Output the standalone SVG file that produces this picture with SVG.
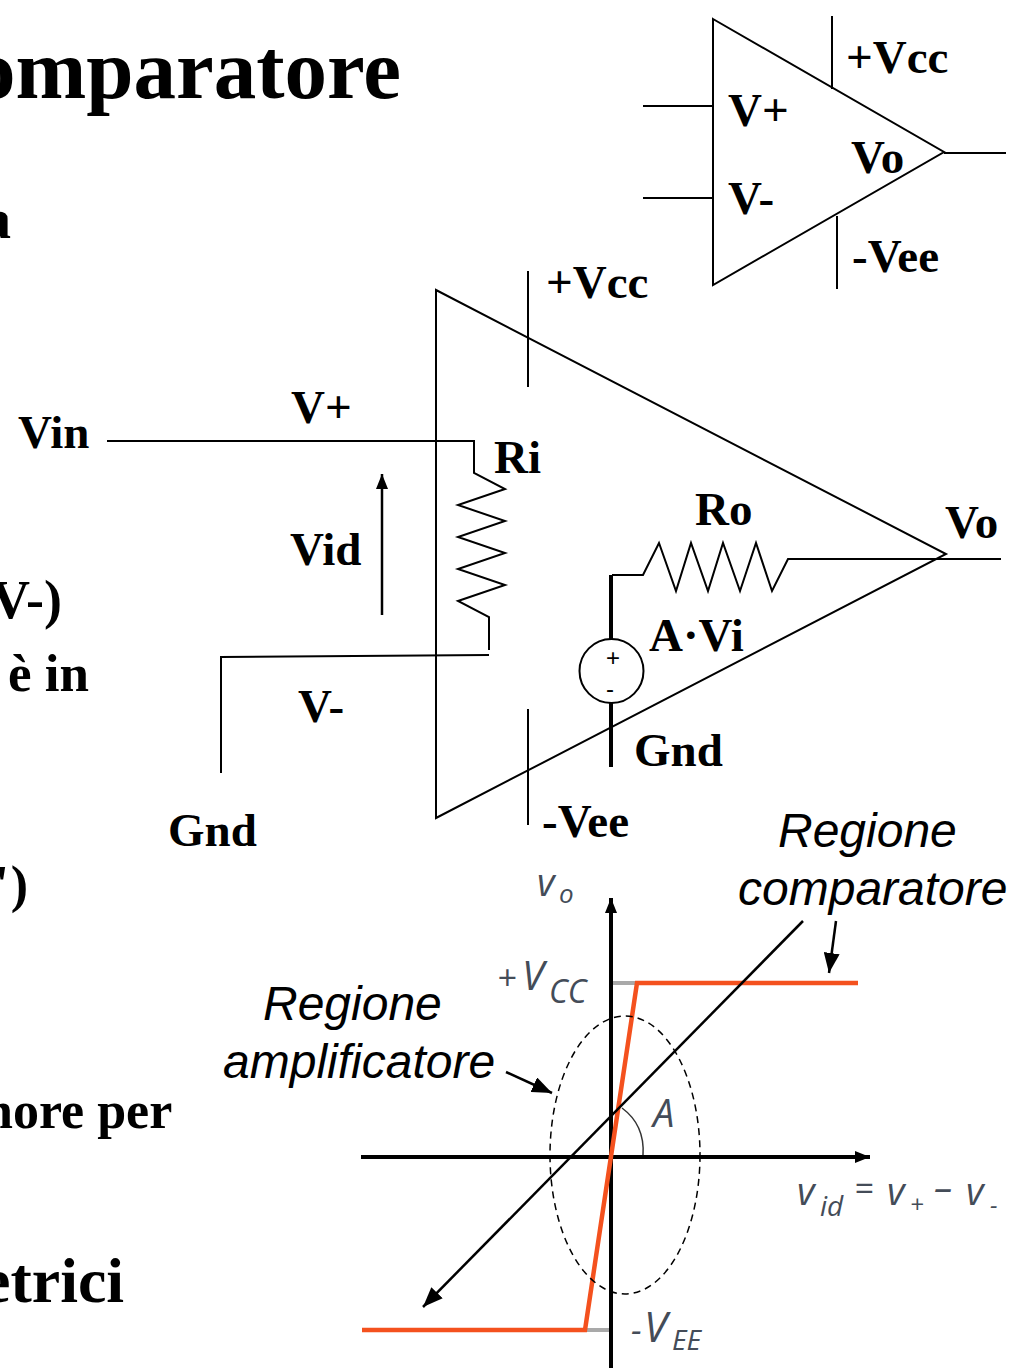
<svg xmlns="http://www.w3.org/2000/svg" width="1013" height="1368" viewBox="0 0 1013 1368">
<style>
.b{font-family:"Liberation Serif",serif;font-weight:bold;font-size:47px;fill:#000}
.i{font-family:"Liberation Sans",Arial,sans-serif;font-style:italic;font-size:48px;fill:#000}
.g{font-family:"Open Sans","Liberation Sans",sans-serif;font-style:italic;font-weight:400;fill:#444c58}
.l{fill:none;stroke:#000;stroke-width:2}
.d{fill:none;stroke:#000;stroke-width:2.5}
.t{fill:none;stroke:#000;stroke-width:4}
.ax{fill:none;stroke:#000;stroke-width:4}
</style>
<defs>
<marker id="ah" markerUnits="userSpaceOnUse" markerWidth="22" markerHeight="16" refX="20" refY="8" orient="auto"><path d="M0 0L20 8L0 16z" fill="#000"/></marker>
<marker id="as" markerUnits="userSpaceOnUse" markerWidth="16" markerHeight="12" refX="15" refY="6" orient="auto"><path d="M0 0L15 6L0 12z" fill="#000"/></marker>
</defs>
<rect width="1013" height="1368" fill="#fff"/>
<g id="page-text">
<text class="b" x="-27" y="98" style="font-size:85px">omparatore</text>
<text class="b" x="-17" y="238" style="font-size:56px">a</text>
<text class="b" x="-9" y="618" style="font-size:54px">V-)</text>
<text class="b" x="8" y="691" style="font-size:53px">è in</text>
<text class="b" x="-18" y="902" style="font-size:52px">")</text>
<text class="b" x="-16" y="1128" style="font-size:52px">nore per</text>
<text class="b" x="-18" y="1302" style="font-size:64px">etrici</text>
</g>
<g id="small-opamp">
<path class="l" d="M713 19L944 152L713 285Z"/>
<path class="l" d="M643 106H713M643 198H713M944 153H1006M832 16V89M837 216V289"/>
<text class="b" x="846" y="73">+Vcc</text>
<text class="b" x="728" y="126">V+</text>
<text class="b" x="851" y="173">Vo</text>
<text class="b" x="728" y="214">V-</text>
<text class="b" x="852" y="272">-Vee</text>
</g>
<g id="big-opamp">
<path class="l" d="M436 290L946 554L436 818Z"/>
<path class="l" d="M528 271V387M528 709V825M946 559H1001"/>
<text class="b" x="546" y="298">+Vcc</text>
<text class="b" x="542" y="837">-Vee</text>
<text class="b" x="945" y="538">Vo</text>
</g>
<g id="input-resistor">
<path class="l" d="M107 441H474V473L505 489L458 505L505 521L458 537L505 553L458 569L505 585L458 601L489 617V650"/>
<path class="l" d="M221 773V657L489 655"/>
<text class="b" x="18" y="448">Vin</text>
<text class="b" x="291" y="423">V+</text>
<text class="b" x="290" y="565">Vid</text>
<text class="b" x="298" y="722">V-</text>
<text class="b" x="168" y="846">Gnd</text>
<text class="b" x="494" y="473">Ri</text>
</g>
<g id="output-resistor">
<path class="l" d="M612 575H643L659 543L676 591L691 543L708 591L723 543L740 591L756 543L772 591L788 559H946"/>
<text class="b" x="695" y="525">Ro</text>
</g>
<g id="source">
<path class="t" d="M611 575V639M611 703V767"/>
<circle class="l" cx="611.5" cy="671" r="32"/>
<text x="613" y="666" font-family="Liberation Sans,sans-serif" font-size="24" text-anchor="middle">+</text>
<text x="610" y="697" font-family="Liberation Sans,sans-serif" font-size="24" text-anchor="middle">-</text>
<text class="b" x="649" y="651">A·Vi</text>
<text class="b" x="634" y="766">Gnd</text>
</g>
<g id="vid-arrow">
<path class="d" d="M382 615V474" marker-end="url(#as)"/>
</g>
<g id="connectors">
<path d="M611 983H637M585 1330H611" fill="none" stroke="#a9a9a9" stroke-width="4"/>
<path class="ax" d="M361 1157H870" marker-end="url(#as)"/>
<path class="ax" d="M611 1368V898" marker-end="url(#as)"/>
<path d="M362 1330H585L637 983H858" fill="none" stroke="#f4511e" stroke-width="4.5"/>
<ellipse cx="625" cy="1155" rx="75" ry="139" fill="none" stroke="#000" stroke-width="1.5" stroke-dasharray="7 5"/>
<path class="d" d="M803 921L423 1307" marker-end="url(#ah)"/>
<path class="d" d="M836 921L829 973" marker-end="url(#ah)"/>
<path class="d" d="M506 1072L552 1093" marker-end="url(#ah)"/>
<path d="M622 1108Q645 1125 643 1155" fill="none" stroke="#333" stroke-width="1.5"/>
</g>
<g id="graph-labels">
<text class="i" x="778" y="847">Regione</text>
<text class="i" x="738" y="905">comparatore</text>
<text class="i" x="263" y="1020">Regione</text>
<text class="i" x="223" y="1078">amplificatore</text>
<text class="g" x="537" y="896" font-size="38">v</text><text class="g" x="559" y="903" font-size="26">o</text>
<text class="g" x="497" y="990" font-size="34">+</text><text class="g" x="522" y="990" font-size="40">V</text><text class="g" x="549" y="1003" font-size="32">CC</text>
<text class="g" x="653" y="1127" font-size="38">A</text>
<text class="g" x="797" y="1205" font-size="38">v</text><text class="g" x="820" y="1216" font-size="28">id</text>
<text class="g" x="854" y="1201" font-size="34">=</text>
<text class="g" x="887" y="1205" font-size="38">v</text><text class="g" x="910" y="1213" font-size="24">+</text>
<text class="g" x="934" y="1201" font-size="38">–</text>
<text class="g" x="966" y="1205" font-size="38">v</text><text class="g" x="990" y="1214" font-size="24">-</text>
<text class="g" x="631" y="1342" font-size="34">-</text><text class="g" x="644" y="1342" font-size="42">V</text><text class="g" x="672" y="1350" font-size="28">EE</text>
</g>
</svg>
